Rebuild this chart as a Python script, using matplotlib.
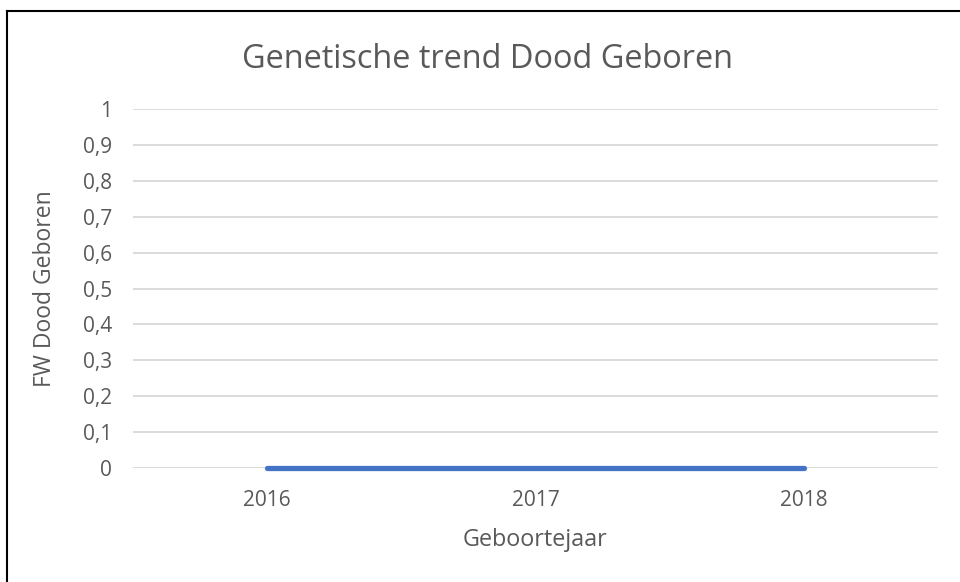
import matplotlib
matplotlib.use("Agg")
import matplotlib.pyplot as plt
from matplotlib.lines import Line2D
from matplotlib.ticker import FuncFormatter

# data
jaren = ["2016", "2017", "2018"]
fw_dood_geboren = [0, 0, 0]
y_ticks = [0, 0.1, 0.2, 0.3, 0.4, 0.5, 0.6, 0.7, 0.8, 0.9, 1]

plt.rcParams["font.family"] = ["Open Sans", "DejaVu Sans"]
grijs = "#595959"

fig = plt.figure(figsize=(9.6, 5.82), dpi=100)
ax = fig.add_axes([133 / 960, 1 - 468 / 582, (938 - 133) / 960, (468 - 109) / 582])

x = list(range(len(jaren)))
ax.plot(x, fw_dood_geboren, color="#4472C4", linewidth=3.8, solid_capstyle="round", zorder=3, clip_on=False)

ax.set_xlim(-0.5, len(jaren) - 0.5)
ax.set_ylim(0, 1)
ax.set_xticks(x)
ax.set_xticklabels(jaren)
ax.set_yticks(y_ticks)
ax.yaxis.set_major_formatter(FuncFormatter(lambda v, p: f"{v:g}".replace(".", ",")))
ax.grid(axis="y", color="#D9D9D9", linewidth=1.3)
ax.set_axisbelow(True)
for s in ax.spines.values():
    s.set_visible(False)
ax.tick_params(length=0, colors=grijs, labelsize=15)
ax.tick_params(axis="y", pad=15)
ax.tick_params(axis="x", pad=16)

ax.set_xlabel("Geboortejaar", fontsize=16.8, color=grijs, labelpad=12)
ax.set_ylabel("FW Dood Geboren", fontsize=16.5, color=grijs)
ax.yaxis.set_label_coords((57 - 133) / (938 - 133), 0.5)
fig.text(487 / 960, 1 - 59 / 582, "Genetische trend Dood Geboren", ha="center", va="center",
         fontsize=23.4, color=grijs)

# rand van de grafiek
fig.add_artist(Line2D([7 / 960, 7 / 960], [0, 1 - 11 / 582], color="black", linewidth=1.5))
fig.add_artist(Line2D([7 / 960, 1], [1 - 11 / 582, 1 - 11 / 582], color="black", linewidth=1.5))

fig.savefig("out.png", dpi=100, facecolor="white")
